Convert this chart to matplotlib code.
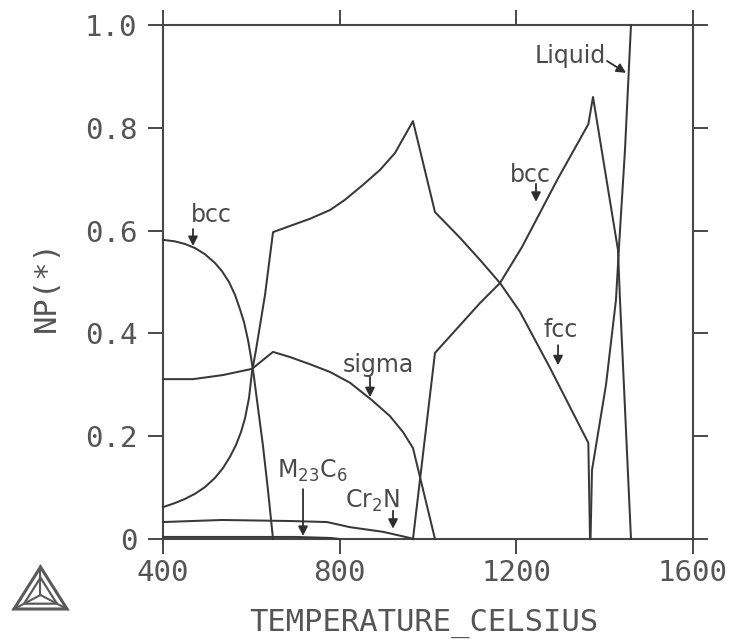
import matplotlib
matplotlib.use("Agg")
import matplotlib.pyplot as plt
from matplotlib.patches import Polygon

# ---- phase fractions NP(*) versus temperature (deg C) ----
bcc_low_T = [400, 427.2, 449.8, 472.5, 495.1, 517.7, 533.6, 549.4, 563.0, 574.3,
             583.4, 592.5, 599.2, 606.0, 615.1, 626.4, 637.7, 649.1]
bcc_low_np = [0.582, 0.579, 0.574, 0.566, 0.554, 0.537, 0.521, 0.500, 0.475, 0.447,
              0.422, 0.387, 0.354, 0.315, 0.255, 0.181, 0.095, 0.0]

fcc_T = [400, 427.2, 449.8, 472.5, 495.1, 517.7, 535.8, 551.7, 565.3, 576.6, 585.7,
         594.7, 601.5, 610.6, 631.0, 649.1, 687.5, 732.8, 778.1, 812.1, 852.8,
         891.3, 925.3, 966.0, 1015.8, 1072.5, 1117.7, 1163.0, 1208.3, 1276.2,
         1363.0, 1366.8]
fcc_np = [0.062, 0.070, 0.078, 0.088, 0.101, 0.119, 0.138, 0.160, 0.183, 0.208, 0.235,
          0.274, 0.325, 0.368, 0.475, 0.597, 0.609, 0.623, 0.640, 0.660, 0.689,
          0.718, 0.751, 0.813, 0.636, 0.586, 0.543, 0.498, 0.442, 0.333,
          0.187, 0.0]

sigma_T = [400, 467.9, 535.8, 601.5, 649.1, 687.5, 732.8, 778.1, 823.4, 873.2,
           914.0, 943.4, 966.0, 1015.8]
sigma_np = [0.311, 0.311, 0.319, 0.331, 0.364, 0.354, 0.340, 0.325, 0.304, 0.270,
            0.239, 0.208, 0.177, 0.0]

bcc_high_T = [966.0, 1015.8, 1117.7, 1163.0, 1212.8, 1292.1, 1363.0, 1373.6, 1430.2,
              1434.7, 1459.6]
bcc_high_np = [0.0, 0.362, 0.459, 0.498, 0.568, 0.698, 0.807, 0.860, 0.562,
               0.465, 0.0]

liquid_T = [1368.0, 1371.3, 1403.0, 1425.6, 1432.4, 1446.0, 1459.6]
liquid_np = [0.0, 0.134, 0.300, 0.465, 0.568, 0.757, 1.0]

cr2n_T = [400, 533.6, 687.5, 771.3, 823.4, 898.1, 959.2, 966.0]
cr2n_np = [0.033, 0.037, 0.035, 0.033, 0.023, 0.014, 0.002, 0.0]

m23c6_T = [400, 700, 780, 800]
m23c6_np = [0.004, 0.004, 0.002, 0.0]

x_ticks = [400, 800, 1200, 1600]
x_tick_labels = ["400", "800", "1200", "1600"]
y_ticks = [0.0, 0.2, 0.4, 0.6, 0.8, 1.0]
y_tick_labels = ["0", "0.2", "0.4", "0.6", "0.8", "1.0"]

# ---- styling ----
plt.rcParams["font.family"] = ["DejaVu Sans Mono", "DejaVu Sans"]
LINE = "#383838"
FRAME = "#474747"
TXT = "#555555"
ANN = "#4a4a4a"

W, H = 737, 641
fig = plt.figure(figsize=(W / 100, H / 100), dpi=100)
fig.patch.set_facecolor("white")
ax = fig.add_axes([163 / W, 102 / H, 530 / W, 514 / H])

for T, y in [(bcc_low_T, bcc_low_np), (fcc_T, fcc_np), (sigma_T, sigma_np),
             (bcc_high_T, bcc_high_np), (liquid_T, liquid_np),
             (cr2n_T, cr2n_np), (m23c6_T, m23c6_np)]:
    ax.plot(T, y, color=LINE, lw=1.45, clip_on=False, zorder=3)

ax.set_xlim(400, 1600)
ax.set_ylim(0, 1)
ax.set_xticks(x_ticks)
ax.set_xticklabels(x_tick_labels)
ax.set_yticks(y_ticks)
ax.set_yticklabels(y_tick_labels)

for s in ax.spines.values():
    s.set_color(FRAME)
    s.set_linewidth(1.5)

ax.tick_params(axis="both", direction="out", length=10.5, width=1.4, color=FRAME,
               top=True, right=True, labeltop=False, labelright=False,
               labelsize=21, labelcolor=TXT)
ax.tick_params(axis="x", pad=4)
ax.tick_params(axis="y", pad=8)

ax.set_xlabel("TEMPERATURE_CELSIUS", fontsize=22, color=TXT)
ax.xaxis.label.set_va("center")
ax.xaxis.set_label_coords(0.4915, -0.1650)
ax.set_ylabel("NP(*)", fontsize=22, color=TXT)
ax.yaxis.label.set(va="center", ha="center", rotation_mode="default")
ax.yaxis.set_label_coords(-0.2208, 0.492)

# ---- phase labels with pointer arrows ----
labels = [
    ("bcc", (508.7, 0.617), "center", (467.9, 0.603), (467.9, 0.570)),
    ("sigma", (888.0, 0.325), "center", (868.7, 0.315), (868.7, 0.276)),
    ("M$_{23}$C$_{6}$", (658.1, 0.119), "left", (717.0, 0.097), (717.0, 0.006)),
    ("Cr$_{2}$N", (812.1, 0.060), "left", (920.8, 0.055), (920.8, 0.020)),
    ("Liquid", (1242.3, 0.926), "left", (1405.3, 0.930), (1448.3, 0.907)),
    ("bcc", (1232.1, 0.695), "center", (1244.5, 0.691), (1244.5, 0.656)),
    ("fcc", (1301.2, 0.393), "center", (1294.4, 0.377), (1294.4, 0.338)),
]
for text, pos, ha, tail, tip in labels:
    ax.text(pos[0], pos[1], text, ha=ha, va="baseline", fontsize=17,
            color=ANN, family=["DejaVu Sans"], zorder=4)
    ax.annotate("", xy=tip, xytext=tail,
                arrowprops=dict(arrowstyle="-|>,head_length=0.55,head_width=0.28",
                                mutation_scale=10, color="#2e2e2e", lw=1.3,
                                shrinkA=0, shrinkB=0), zorder=4)

# ---- small triangular logo in the lower left ----
lg = fig.add_axes([8 / W, (H - 616) / H, 66 / W, 56 / H])
lg.set_xlim(8, 74)
lg.set_ylim(616, 560)
lg.axis("off")
outer = [(40.5, 567), (14, 609), (67, 609)]
cx = sum(p[0] for p in outer) / 3
cy = sum(p[1] for p in outer) / 3
inner = [(cx + 0.62 * (px - cx), cy + 0.62 * (py - cy)) for px, py in outer]
lg.add_patch(Polygon(outer, closed=True, fill=False, ec="#5a5a5a", lw=2.2, joinstyle="miter"))
lg.add_patch(Polygon(inner, closed=True, fill=False, ec="#5a5a5a", lw=1.6, joinstyle="miter"))
for px, py in outer:
    lg.plot([cx, px], [cy, py], color="#5a5a5a", lw=1.5)

fig.savefig("out.png", dpi=100, facecolor="white")
